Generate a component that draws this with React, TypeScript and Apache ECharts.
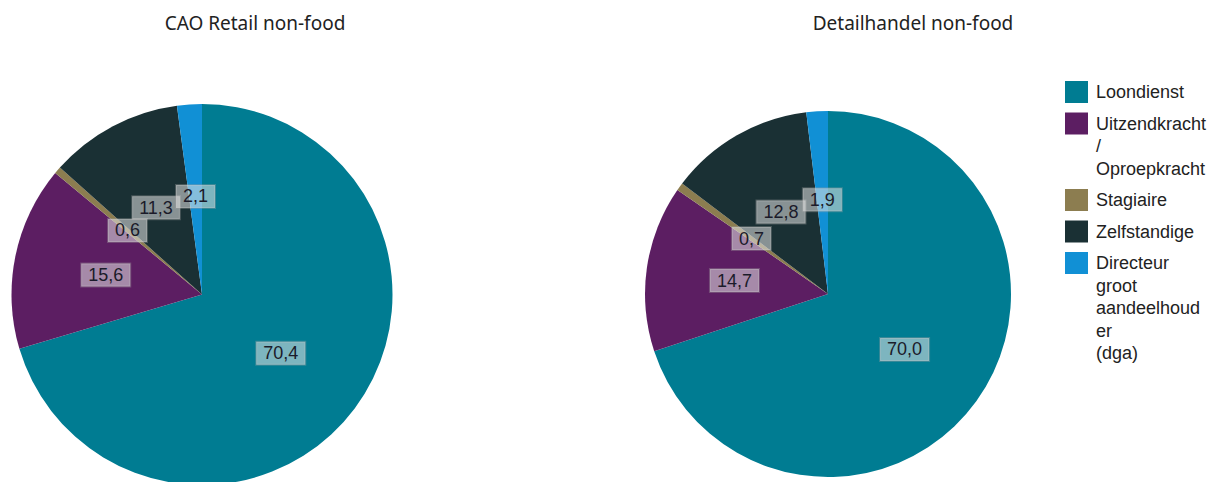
import React, { useEffect, useRef } from "react";
import * as echarts from "echarts";

const categories = [
  "Loondienst",
  "Uitzendkracht / Oproepkracht",
  "Stagiaire",
  "Zelfstandige",
  "Directeur groot aandeelhouder (dga)",
];
const legendLabels = [
  "Loondienst",
  "Uitzendkracht\n/\nOproepkracht",
  "Stagiaire",
  "Zelfstandige",
  "Directeur\ngroot\naandeelhoud\ner\n(dga)",
];
const colors = ["#007C92", "#5C1E62", "#8C7D50", "#1A3034", "#1190D5"];
const titles = ["CAO Retail non-food", "Detailhandel non-food"];
const cao = [70.4, 15.6, 0.6, 11.3, 2.1];
const detailhandel = [70.0, 14.7, 0.7, 12.8, 1.9];

export default function App() {
  const ref = useRef<HTMLDivElement>(null);
  useEffect(() => {
    if (!ref.current) return;
    const chart = echarts.init(ref.current, undefined, { renderer: "svg" });
    const fmt = (p: any) => Number(p.value).toFixed(1).replace(".", ",");
    const label = {
      show: true,
      position: "inside",
      formatter: fmt,
      fontFamily: "Liberation Sans, Arial, sans-serif",
      fontSize: 18,
      color: "#1b1b2a",
      backgroundColor: "rgba(228,228,228,0.55)",
      borderColor: "rgba(160,160,160,0.35)",
      borderWidth: 1,
      padding: [3, 7, 2, 7],
    };
    const mk = (vals: number[], center: number[], radius: number) => ({
      type: "pie",
      center,
      radius,
      startAngle: 90,
      clockwise: true,
      avoidLabelOverlap: false,
      label,
      labelLine: { show: false },
      labelLayout: { hideOverlap: false },
      emphasis: { disabled: true },
      itemStyle: { borderWidth: 0 },
      data: vals.map((v, i) => ({
        name: categories[i],
        value: v,
        itemStyle: { color: colors[i] },
      })),
    });

    const legendEls: any[] = [];
    let top = 81;
    legendLabels.forEach((txt, i) => {
      const lines = txt.split("\n").length;
      legendEls.push({
        type: "rect",
        shape: { x: 1065, y: top, width: 23, height: 22 },
        style: { fill: colors[i] },
      });
      legendEls.push({
        type: "text",
        x: 1096,
        y: top,
        style: {
          text: txt,
          fontFamily: "Liberation Sans, Arial, sans-serif",
          fontSize: 18,
          lineHeight: 22.5,
          fill: "#222222",
          verticalAlign: "top",
          align: "left",
        },
      });
      top += lines * 22.5 + 9;
    });

    const titleStyle = {
      fontFamily: "Noto Sans, sans-serif",
      fontSize: 19,
      fontWeight: "normal",
      color: "#222",
    };
    chart.setOption({
      animation: false,
      backgroundColor: "#ffffff",
      title: [
        { text: titles[0], left: 250, top: 8, textAlign: "center", textStyle: titleStyle },
        { text: titles[1], left: 908, top: 8, textAlign: "center", textStyle: titleStyle },
      ],
      graphic: legendEls,
      series: [mk(cao, [202, 294.5], 190.5), mk(detailhandel, [828, 294], 183)],
    });
    return () => chart.dispose();
  }, []);
  return (
    <div
      ref={ref}
      style={{ position: "absolute", left: 0, top: 0, width: 1216, height: 482 }}
    />
  );
}
